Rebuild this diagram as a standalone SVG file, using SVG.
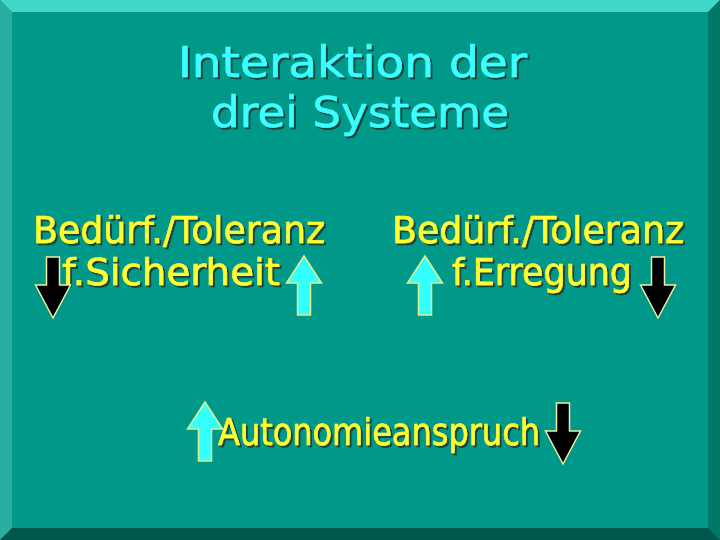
<svg xmlns="http://www.w3.org/2000/svg" width="720" height="540" viewBox="0 0 720 540">
<defs>
<filter id="sh" x="-5%" y="-20%" width="115%" height="150%">
<feDropShadow dx="2" dy="2" stdDeviation="0.4" flood-color="#1c3a34" flood-opacity="0.9"/>
</filter>
<path id="up" d="M0,0 L17.5,27 L6.5,27 L6.5,59 L-6.5,59 L-6.5,27 L-17.5,27 Z"/>
<path id="down" d="M-6.5,0 L6.5,0 L6.5,28 L17.5,28 L0,61 L-17.5,28 L-6.5,28 Z"/>
</defs>
<style>
.t{font-family:"DejaVu Sans","Liberation Sans",sans-serif;filter:url(#sh);stroke-width:0.6;}
.title{fill:#3cffff;stroke:#3cffff;font-size:42px;}
.body{fill:#ffff33;stroke:#ffff33;font-size:38px;}
.upA{fill:#33ffff;stroke:#e0f090;stroke-width:1.5;}
.downA{fill:#000;stroke:#f0f0a0;stroke-width:1.5;}
</style>
<rect x="0" y="0" width="720" height="540" fill="#009888"/>
<polygon points="0,0 720,0 708,12 12,12" fill="#40d8c8"/>
<polygon points="0,0 12,12 12,528 0,540" fill="#2aaea0"/>
<polygon points="720,0 720,540 708,528 708,12" fill="#007868"/>
<polygon points="0,540 12,528 708,528 720,540" fill="#00554c"/>

<g id="title">
<text class="t title" x="178" y="77" textLength="349" lengthAdjust="spacingAndGlyphs">Interaktion der</text>
<text class="t title" x="211" y="127" textLength="298" lengthAdjust="spacingAndGlyphs">drei Systeme</text>
</g>

<g id="sicherheit">
<text class="t body" x="33" y="243" textLength="292" lengthAdjust="spacingAndGlyphs">Bedürf./Toleranz</text>
<text class="t body" x="62" y="285" textLength="218" lengthAdjust="spacingAndGlyphs">f.Sicherheit</text>
<use href="#down" class="downA" transform="translate(53,257)"/>
<use href="#up" class="upA" transform="translate(304,256)"/>
</g>

<g id="erregung">
<text class="t body" x="392" y="243" textLength="292" lengthAdjust="spacingAndGlyphs">Bedürf./Toleranz</text>
<text class="t body" x="452" y="285" textLength="180" lengthAdjust="spacingAndGlyphs">f.Erregung</text>
<use href="#up" class="upA" transform="translate(425,256)"/>
<use href="#down" class="downA" transform="translate(658,257)"/>
</g>

<g id="autonomie">
<text class="t body" x="218" y="445" textLength="322" lengthAdjust="spacingAndGlyphs">Autonomieanspruch</text>
<use href="#up" class="upA" transform="translate(205,402)"/>
<use href="#down" class="downA" transform="translate(563,403)"/>
</g>

<g id="connectors"/>
</svg>
